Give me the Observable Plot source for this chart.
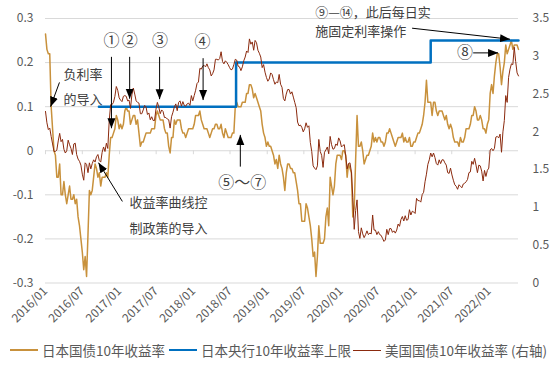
<!DOCTYPE html>
<html><head><meta charset="utf-8">
<script src="https://cdn.jsdelivr.net/npm/d3@7"></script>
<script src="https://cdn.jsdelivr.net/npm/@observablehq/plot@0.6"></script>
<style>
body{margin:0;background:#fff;font-family:"Noto Sans CJK SC",sans-serif;}
#chart{width:550px;height:366px;position:relative;overflow:hidden;background:#fff}
#legend{position:absolute;left:0;top:336px;width:550px;height:28px;font-size:13.5px;color:#595959}
.item{position:absolute;top:0;height:28px;display:flex;align-items:center;white-space:nowrap}
.sw{display:inline-block;width:28px;height:0;margin-right:4px}
</style></head><body><div id="chart"></div><script>
// ---- data (weekly Friday closes) ----
const years = [2016, 2017, 2018, 2019, 2020, 2021, 2022];
const jgb2016 = [0.265,0.23,0.22,0.22,0.10, 0.05,0.00,-0.01,-0.06, -0.06,-0.03,-0.10,-0.10, -0.07,-0.10,-0.12,-0.10,-0.08, -0.11,-0.11,-0.10,-0.12, -0.11,-0.15,-0.17,-0.20, -0.23,-0.27,-0.24,-0.285,-0.19, -0.09,-0.10,-0.09,-0.06, -0.03,-0.04,-0.06,-0.05,-0.08, -0.06,-0.06,-0.06,-0.05, -0.06,-0.01,0.03,0.03, 0.04,0.05,0.08,0.07,0.05];
const jgb2017 = [0.06,0.05,0.06,0.09, 0.10,0.09,0.09,0.06, 0.07,0.08,0.08,0.06,0.07, 0.04,0.01,0.02,0.02, 0.03,0.04,0.04,0.04, 0.04,0.05,0.05,0.05,0.08, 0.09,0.08,0.07,0.07, 0.07,0.05,0.04,0.04, 0.01,-0.005,0.03,0.03,0.07, 0.06,0.07,0.07,0.07, 0.05,0.04,0.04,0.03, 0.04,0.05,0.05,0.05,0.05];
const jgb2018 = [0.06,0.08,0.08,0.08, 0.09,0.07,0.06,0.05, 0.05,0.05,0.04,0.03,0.04, 0.05,0.05,0.06,0.06, 0.05,0.05,0.06,0.04, 0.03,0.05,0.04,0.03,0.03, 0.03,0.04,0.04,0.10, 0.11,0.10,0.10,0.10,0.11, 0.11,0.11,0.13,0.13, 0.15,0.15,0.14,0.12, 0.13,0.12,0.11,0.10,0.09, 0.06,0.04,0.03,0.01];
const jgb2019 = [0.02,0.01,0.01,0.00, -0.01,-0.03,-0.02,-0.04, -0.01,-0.03,-0.04,-0.06,-0.09, -0.05,-0.03,-0.03,-0.04, -0.04,-0.05,-0.05,-0.07,-0.09, -0.12,-0.12,-0.16,-0.16, -0.16,-0.12,-0.13,-0.15, -0.17,-0.20,-0.24,-0.23,-0.285, -0.24,-0.17,-0.21,-0.21, -0.21,-0.20,-0.15,-0.13, -0.17,-0.06,-0.08,-0.10,-0.08, -0.03,-0.01,-0.01,-0.01];
const jgb2020 = [-0.02,0.00,0.00,-0.01,-0.06, -0.03,-0.04,-0.05,-0.15, -0.13,-0.02,0.08,0.01, 0.01,0.02,0.00,-0.03, -0.02,-0.01,-0.01,0.00,0.01, 0.04,0.02,0.03,0.02, 0.03,0.03,0.02,0.02,0.01, 0.02,0.04,0.04,0.05, 0.04,0.03,0.02,0.01, 0.02,0.03,0.03,0.03,0.04, 0.02,0.03,0.02,0.02, 0.03,0.01,0.01,0.02];
const jgb2021 = [0.02,0.03,0.04,0.04,0.05, 0.06,0.08,0.11,0.16, 0.11,0.11,0.11,0.08, 0.11,0.11,0.09,0.08,0.09, 0.09,0.09,0.08,0.07, 0.08,0.06,0.05,0.06, 0.05,0.03,0.02,0.02,0.02, 0.01,0.03,0.02,0.02, 0.03,0.05,0.05,0.05, 0.06,0.08,0.08,0.10,0.09, 0.07,0.07,0.08,0.07, 0.05,0.05,0.04,0.06,0.07];
const jgb2022 = [0.13,0.15,0.13,0.17, 0.20,0.22,0.22,0.19, 0.15,0.18,0.20,0.24, 0.22,0.23,0.24,0.25,0.23, 0.24,0.24,0.24,0.23];

const ust2016 = [2.27,2.12,2.03,2.05,1.94, 1.84,1.74,1.74,1.76, 1.88,1.98,1.87,1.90, 1.77,1.72,1.75,1.89,1.83, 1.78,1.70,1.84,1.85, 1.70,1.64,1.61,1.56, 1.44,1.36,1.59,1.57,1.46, 1.59,1.51,1.58,1.63, 1.60,1.67,1.70,1.62,1.60, 1.73,1.80,1.74,1.85, 1.78,2.15,2.36,2.36, 2.39,2.47,2.60,2.55,2.45];
const ust2017 = [2.42,2.40,2.47,2.48, 2.47,2.41,2.42,2.31, 2.49,2.58,2.50,2.41,2.39, 2.38,2.24,2.24,2.29, 2.35,2.33,2.23,2.25, 2.16,2.20,2.15,2.15,2.30, 2.39,2.33,2.24,2.29, 2.27,2.19,2.19,2.17, 2.16,2.05,2.20,2.26,2.33, 2.37,2.28,2.39,2.41, 2.34,2.40,2.35,2.34, 2.37,2.38,2.35,2.48,2.41];
const ust2018 = [2.48,2.55,2.64,2.66, 2.84,2.83,2.87,2.88, 2.86,2.90,2.85,2.82,2.74, 2.77,2.82,2.96,2.96, 2.95,2.97,3.06,2.93, 2.90,2.94,2.92,2.89,2.85, 2.82,2.83,2.89,2.96, 2.95,2.87,2.86,2.81,2.86, 2.94,2.99,3.07,3.05, 3.23,3.16,3.19,3.08, 3.21,3.18,3.08,3.04,2.99, 2.85,2.89,2.79,2.72];
const ust2019 = [2.67,2.70,2.78,2.76, 2.69,2.63,2.66,2.65, 2.76,2.63,2.59,2.44,2.41, 2.50,2.56,2.56,2.50, 2.53,2.46,2.39,2.32,2.13, 2.08,2.09,2.06,2.00, 2.04,2.12,2.06,2.08, 1.86,1.74,1.55,1.52,1.50, 1.55,1.90,1.74,1.69, 1.53,1.73,1.76,1.80, 1.71,1.94,1.83,1.77,1.78, 1.84,1.82,1.92,1.88];
const ust2020 = [1.80,1.82,1.83,1.68,1.51, 1.58,1.59,1.47,1.13, 0.71,0.96,1.10,0.68, 0.59,0.73,0.65,0.60, 0.64,0.69,0.64,0.66,0.65, 0.90,0.70,0.70,0.64, 0.68,0.64,0.63,0.59,0.55, 0.57,0.71,0.64,0.72, 0.72,0.67,0.69,0.66, 0.70,0.78,0.75,0.84,0.88, 0.82,0.89,0.83,0.84, 0.97,0.90,0.95,0.94];
const ust2021 = [0.92,1.12,1.09,1.09,1.07, 1.17,1.20,1.34,1.44, 1.57,1.63,1.72,1.67, 1.72,1.66,1.58,1.56,1.63, 1.58,1.63,1.63,1.59, 1.56,1.46,1.45,1.52, 1.43,1.36,1.30,1.28,1.24, 1.30,1.28,1.26,1.31, 1.32,1.34,1.37,1.46, 1.47,1.61,1.57,1.65,1.56, 1.46,1.56,1.55,1.48, 1.35,1.49,1.41,1.49,1.52];
const ust2022 = [1.76,1.78,1.75,1.78, 1.93,1.94,1.92,1.97, 1.73,2.00,2.15,2.48, 2.39,2.72,2.83,2.90,2.89, 3.12,2.93,2.78,2.74];

// BoJ 10y yield cap (step changes)
const capDates = ["2016-09-21", "2018-07-31", "2021-03-19", "2022-05-27"];
const capValues = [0.10, 0.20, 0.25, 0.25];

// axes
const leftTicks = [-0.3, -0.2, -0.1, 0, 0.1, 0.2, 0.3];
const rightTicks = [0, 0.5, 1, 1.5, 2, 2.5, 3, 3.5];
const xStart = "2016-01-01", xEnd = "2022-05-27";

// annotations
const arrowList = [
  {x1:"2016-03-10", y1:0.155, x2:"2016-01-26", y2:0.100},
  {x1:"2016-11-22", y1:0.213, x2:"2016-11-22", y2:0.051},
  {x1:"2017-02-20", y1:0.213, x2:"2017-02-20", y2:0.118},
  {x1:"2017-07-18", y1:0.213, x2:"2017-07-18", y2:0.117},
  {x1:"2018-02-18", y1:0.210, x2:"2018-02-18", y2:0.115},
  {x1:"2018-08-21", y1:-0.036, x2:"2018-08-21", y2:0.036},
  {x1:"2017-01-15", y1:-0.115, x2:"2016-09-19", y2:-0.027},
  {x1:"2021-10-15", y1:0.222, x2:"2022-02-15", y2:0.222},
  {x1:"2020-12-17", y1:0.278, x2:"2022-04-15", y2:0.253}
];
const textNotes = [
  {x:"2016-03-30", y:0.172, text:"负利率"},
  {x:"2016-03-30", y:0.115, text:"的导入"},
  {x:"2017-02-19", y:-0.118, text:"收益率曲线控"},
  {x:"2017-02-19", y:-0.176, text:"制政策的导入"},
  {x:"2019-08-26", y:0.313, text:"⑨—⑭，此后每日实"},
  {x:"2019-08-26", y:0.270, text:"施固定利率操作"}
];
const numberNotes = [
  {x:"2018-08-31", y:-0.072, text:"⑤～⑦"},
  {x:"2016-11-22", y:0.249, text:"①"},
  {x:"2017-02-21", y:0.249, text:"②"},
  {x:"2017-07-20", y:0.249, text:"③"},
  {x:"2018-02-15", y:0.247, text:"④"},
  {x:"2021-09-05", y:0.222, text:"⑧"}
];

// ---- build ----
const D = s => new Date(s);
function weekly(arrays) {
  const out = [];
  years.forEach((y, k) => {
    const end = y === 2022 ? new Date(Date.UTC(2022, 4, 28)) : new Date(Date.UTC(y + 1, 0, 1));
    const fr = d3.utcFriday.range(new Date(Date.UTC(y, 0, 1)), end);
    arrays[k].forEach((v, i) => { if (fr[i]) out.push({date: fr[i], v}); });
  });
  return out;
}
const jgb = weekly([jgb2016, jgb2017, jgb2018, jgb2019, jgb2020, jgb2021, jgb2022]);
const ust = weekly([ust2016, ust2017, ust2018, ust2019, ust2020, ust2021, ust2022]);
const cap = capDates.map((d, i) => ({date: D(d), v: capValues[i]}));
const L0 = -0.3, L1 = 0.3, RMAX = 3.5;
const toL = r => L0 + r * (L1 - L0) / RMAX;
const fromL = v => Math.round((v - L0) * RMAX / (L1 - L0) * 10) / 10;
const xTicks = d3.utcMonth.every(6).range(D(xStart), D("2022-05-28"));
const arrows = arrowList.map(a => ({...a, x1: D(a.x1), x2: D(a.x2)}));
const tNotes = textNotes.map(n => ({...n, x: D(n.x)}));
const nNotes = numberNotes.map(n => ({...n, x: D(n.x)}));
const font = '"Noto Sans CJK SC", "Noto Sans", sans-serif';

const svg = Plot.plot({
  width: 550, height: 336,
  marginLeft: 45, marginRight: 32, marginTop: 18, marginBottom: 53.5,
  style: {fontFamily: font, fontSize: "12px", color: "#595959", background: "#fff", overflow: "visible"},
  x: {type: "utc", domain: [D(xStart), D(xEnd)]},
  y: {domain: [L0, L1]},
  marks: [
    Plot.gridY(leftTicks, {stroke: "#d9d9d9", strokeOpacity: 1, strokeWidth: 1}),
    Plot.ruleX(xTicks, {y1: 0, y2: -0.009, stroke: "#d9d9d9", strokeWidth: 1}),
    Plot.axisY(leftTicks, {anchor: "left", tickSize: 0, tickPadding: 12, fontSize: 12,
      tickFormat: d => Math.abs(d) < 1e-9 ? "0" : d.toFixed(1)}),
    Plot.axisY(rightTicks.map(toL), {anchor: "right", tickSize: 0, tickPadding: 14, fontSize: 12,
      tickFormat: d => String(fromL(d))}),
    Plot.axisX(xTicks, {anchor: "bottom", tickSize: 0, tickPadding: 6, tickRotate: -45, fontSize: 12,
      tickFormat: d3.utcFormat("%Y/%m")}),
    Plot.lineY(jgb, {x: "date", y: "v", stroke: "#C8913C", strokeWidth: 1.5}),
    Plot.lineY(cap, {x: "date", y: "v", stroke: "#0070C0", strokeWidth: 2.5, curve: "step-after"}),
    Plot.lineY(ust, {x: "date", y: d => toL(d.v), stroke: "#8B2A0E", strokeWidth: 1}),
    Plot.link(arrows, {x1: "x1", y1: "y1", x2: "x2", y2: "y2", stroke: "#000", strokeWidth: 1, markerEnd: "arrow"}),
    Plot.text(tNotes, {x: "x", y: "y", text: "text", textAnchor: "start", fontSize: 13, fill: "#404040"}),
    Plot.text(nNotes, {x: "x", y: "y", text: "text", textAnchor: "middle", fontSize: 16, fill: "#404040"})
  ]
});
// turn Plot's arrow markers into filled triangles
const ns = "http://www.w3.org/2000/svg";
svg.querySelectorAll("marker").forEach(m => {
  m.setAttribute("viewBox", "-5 -5 10 10");
  m.setAttribute("markerUnits", "userSpaceOnUse");
  m.setAttribute("markerWidth", "10");
  m.setAttribute("markerHeight", "10");
  m.setAttribute("refX", "5");
  m.setAttribute("refY", "0");
  m.setAttribute("orient", "auto");
  while (m.firstChild) m.removeChild(m.firstChild);
  const p = document.createElementNS(ns, "path");
  p.setAttribute("d", "M-5,-4L5,0L-5,4Z");
  p.setAttribute("fill", "#000");
  p.setAttribute("stroke", "none");
  m.appendChild(p);
});
const chart = document.getElementById("chart");
chart.appendChild(svg);

// legend
const legendItems = [
  {label: "日本国债10年收益率", color: "#C8913C", w: 2, left: 10},
  {label: "日本央行10年收益率上限", color: "#0070C0", w: 2.5, left: 169},
  {label: "美国国债10年收益率 (右轴)", color: "#8B2A0E", w: 1, left: 353}
];
const lg = document.createElement("div"); lg.id = "legend";
legendItems.forEach(it => {
  const d = document.createElement("div"); d.className = "item"; d.style.left = it.left + "px";
  const s = document.createElement("span"); s.className = "sw"; s.style.borderTop = it.w + "px solid " + it.color;
  const t = document.createElement("span"); t.textContent = it.label;
  d.appendChild(s); d.appendChild(t); lg.appendChild(d);
});
chart.appendChild(lg);
</script></body></html>
